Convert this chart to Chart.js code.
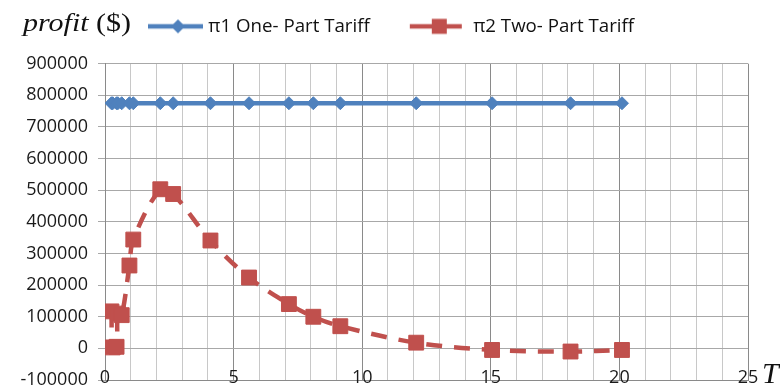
<!DOCTYPE html>
<html>
<head>
<meta charset="utf-8">
<script src="https://cdn.jsdelivr.net/npm/chart.js@4.4.1/dist/chart.umd.min.js"></script>
<style>
    html, body { margin: 0; padding: 0; background: #fff; }
    #wrap { position: relative; width: 780px; height: 387px; }
    #profitLabel {
        position: absolute; left: 23px; top: 10px;
        font-family: 'Liberation Serif', 'DejaVu Serif', serif;
        font-size: 25px; line-height: 1; color: #111;
        transform: scaleX(1.2); transform-origin: left top;
        white-space: nowrap;
    }
    #tLabel {
        position: absolute; left: 762px; top: 358px;
        font-family: 'Liberation Serif', 'DejaVu Serif', serif;
        font-style: italic; font-size: 30px; line-height: 1; color: #111;
    }
</style>
</head>
<body>
<div id="wrap">
    <canvas id="profitChart" width="780" height="387"></canvas>
    <div id="profitLabel"><i>profit</i> ($)</div>
    <div id="tLabel">T</div>
</div>
<script>
// Values
const periods = [0.25, 0.3, 0.45, 0.5, 0.65, 0.95, 1.1, 2.15, 2.65, 4.1, 5.6, 7.15, 8.1, 9.15, 12.1, 15.05, 18.1, 20.1];
const onePartProfit = [775000, 775000, 775000, 775000, 775000, 775000, 775000, 775000, 775000, 775000, 775000, 775000, 775000, 775000, 775000, 775000, 775000, 775000];
const twoPartProfit = [117000, 3000, 5000, 110000, 105000, 262000, 344000, 503000, 488000, 341000, 224000, 140000, 100000, 70000, 18000, -5000, -10000, -5000];
const seriesNames = ['π1 One- Part Tariff', 'π2 Two- Part Tariff'];
const xTickLabels = [0, 5, 10, 15, 20, 25];
const yTickLabels = [-100000, 0, 100000, 200000, 300000, 400000, 500000, 600000, 700000, 800000, 900000];

const BLUE = '#4F81BD';
const RED = '#C0504D';

function toPoints(xs, ys) {
    return xs.map((x, i) => ({ x: x, y: ys[i] }));
}

// Legend glyphs: line with marker, Excel style
function makeIcon(color, marker) {
    const c = document.createElement('canvas');
    c.width = 100;
    c.height = 24;
    const g = c.getContext('2d');
    g.strokeStyle = color;
    g.fillStyle = color;
    g.lineWidth = 4.5;
    g.beginPath();
    if (marker === 'diamond') {
        g.moveTo(41, 12); g.lineTo(96, 12); g.stroke();
        g.beginPath();
        g.moveTo(71, 5); g.lineTo(78, 12); g.lineTo(71, 19); g.lineTo(64, 12);
        g.closePath(); g.fill();
    } else {
        g.moveTo(38, 12); g.lineTo(90, 12); g.stroke();
        g.fillRect(60, 4.5, 15, 15);
    }
    return c;
}
const legendIcons = [makeIcon(BLUE, 'diamond'), makeIcon(RED, 'square')];

const tickFont = { family: "'Open Sans', sans-serif", size: 18 };

// x tick labels sit over the bottom edge of the plot, like the Excel original
const xLabelPlugin = {
    id: 'xLabelPlugin',
    afterDraw: function(chart) {
        const ctx = chart.ctx;
        const xScale = chart.scales.x;
        ctx.save();
        ctx.font = "18px 'Open Sans', sans-serif";
        ctx.fillStyle = '#1a1a1a';
        ctx.textAlign = 'center';
        ctx.textBaseline = 'middle';
        xTickLabels.forEach(v => {
            ctx.fillText(String(v), xScale.getPixelForValue(v), chart.chartArea.bottom - 2);
        });
        ctx.restore();
    }
};

new Chart(document.getElementById('profitChart'), {
    type: 'line',
    data: {
        datasets: [{
            label: seriesNames[0],
            data: toPoints(periods, onePartProfit),
            borderColor: BLUE,
            backgroundColor: BLUE,
            borderWidth: 4.5,
            pointStyle: 'rectRot',
            pointRadius: 6.5,
            pointBorderWidth: 1,
            pointBackgroundColor: BLUE,
            pointBorderColor: BLUE,
            tension: 0
        }, {
            label: seriesNames[1],
            data: toPoints(periods, twoPartProfit),
            borderColor: RED,
            backgroundColor: RED,
            borderWidth: 4.5,
            borderDash: [16, 12],
            pointStyle: 'rect',
            pointRadius: 10.5,
            pointBorderWidth: 1,
            pointBackgroundColor: RED,
            pointBorderColor: RED,
            tension: 0.35
        }]
    },
    plugins: [xLabelPlugin],
    options: {
        responsive: false,
        animation: false,
        layout: { autoPadding: false, padding: { top: 7, right: 32, bottom: 0, left: 0 } },
        plugins: {
            legend: {
                position: 'top',
                align: 'start',
                fullSize: false,
                labels: {
                    usePointStyle: true,
                    pointStyleWidth: 84,
                    padding: 10,
                    color: '#111',
                    font: { family: "'Open Sans', sans-serif", size: 18.7 },
                    generateLabels: function(chart) {
                        const items = Chart.defaults.plugins.legend.labels.generateLabels(chart);
                        items.forEach((item, i) => { item.pointStyle = legendIcons[i]; });
                        return items;
                    }
                }
            },
            // empty spacer between legend and plot
            title: {
                display: true,
                text: '',
                weight: 500,
                font: { size: 1, lineHeight: 1 },
                padding: { top: 17, bottom: 0 }
            },
            tooltip: { enabled: false }
        },
        scales: {
            x: {
                type: 'linear',
                min: 0,
                max: 25,
                afterFit: function(scale) { scale.height = 7; },
                border: { display: true, color: '#8a8a8a' },
                grid: {
                    drawTicks: false,
                    color: function(ctx) {
                        return ctx.tick && ctx.tick.value % 5 === 0 ? '#8a8a8a' : '#c8c8c8';
                    }
                },
                ticks: {
                    stepSize: 1,
                    autoSkip: false,
                    maxRotation: 0,
                    color: 'rgba(0,0,0,0)',
                    font: tickFont,
                    callback: function() { return ''; }
                }
            },
            y: {
                min: yTickLabels[0],
                max: yTickLabels[yTickLabels.length - 1],
                afterFit: function(scale) {
                    scale.width = 105;
                    scale.paddingTop = 0;
                    scale.paddingBottom = 0;
                },
                border: { display: true, color: '#8a8a8a' },
                grid: {
                    color: '#a8a8a8',
                    tickLength: 7
                },
                ticks: {
                    stepSize: 100000,
                    padding: 10,
                    color: '#1a1a1a',
                    font: tickFont,
                    callback: function(value) {
                        return yTickLabels.includes(value) ? String(value) : '';
                    }
                }
            }
        }
    }
});
</script>
</body>
</html>
